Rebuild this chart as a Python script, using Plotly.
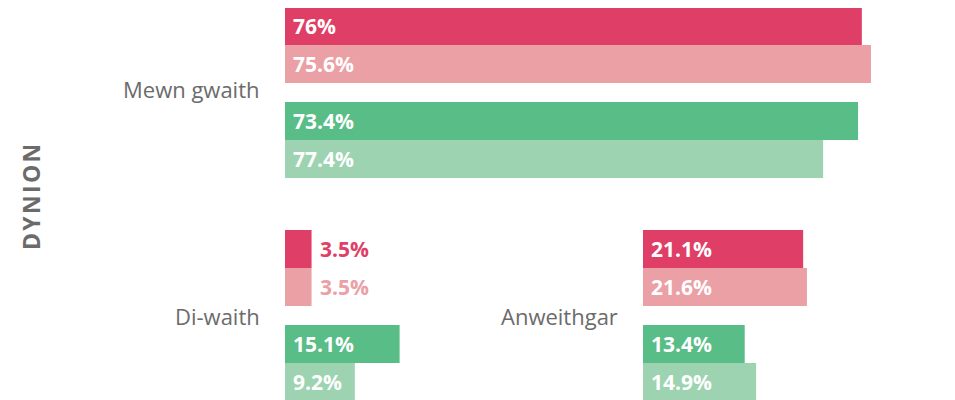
import plotly.graph_objects as go

# data
group_names = ["Mewn gwaith", "Di-waith", "Anweithgar"]
# bar lengths as drawn (percent)
mewn_gwaith = [76.0, 77.2, 75.5, 70.9]
di_waith = [3.5, 3.5, 15.1, 9.2]
anweithgar = [21.1, 21.6, 13.4, 14.9]
# labels printed on the bars
mewn_gwaith_labels = ["76%", "75.6%", "73.4%", "77.4%"]
di_waith_labels = ["3.5%", "3.5%", "15.1%", "9.2%"]
anweithgar_labels = ["21.1%", "21.6%", "13.4%", "14.9%"]
side_label = "DYNION"

colors = ["#df3e66", "#eba0a5", "#58bd87", "#9dd3b0"]
FONT = "Open Sans"
GREY = "#6b6b6b"
W, H = 955, 400
OFF = 8  # page body margin
BAR_PX = 38

def px_x(p):
    return (p - OFF) / W

def px_y(p):
    return 1 - (p - OFF) / H

# bar slots: two pairs with half a bar gap between
pos = [i + (0.5 if i >= 2 else 0) for i in range(4)]
center = (pos[0] + pos[-1]) / 2

groups = [
    (mewn_gwaith, mewn_gwaith_labels, "x", "y"),
    (di_waith, di_waith_labels, "x2", "y2"),
    (anweithgar, anweithgar_labels, "x3", "y3"),
]
label_yshift = [4, 0, 0]

fig = go.Figure()
annotations = []

for name, (vals, labels, xa, ya), ys in zip(group_names, groups, label_yshift):
    fig.add_trace(go.Bar(
        x=vals, y=pos, orientation="h", width=1,
        marker=dict(color=colors, line=dict(width=0)),
        xaxis=xa, yaxis=ya, hoverinfo="skip", showlegend=False,
    ))
    for v, lab, p, c in zip(vals, labels, pos, colors):
        inside = v >= 6
        annotations.append(dict(
            x=0 if inside else v, y=p, xref=xa, yref=ya,
            text="<b>" + lab + "</b>", showarrow=False,
            xanchor="left", yanchor="middle", xshift=6,
            font=dict(family=FONT, size=21, color="white" if inside else c),
        ))
    # group label left of the bars
    annotations.append(dict(
        x=0, y=center, xref=xa, yref=ya, text=name, showarrow=False,
        xanchor="right", yanchor="middle", xshift=-23, yshift=ys,
        font=dict(family=FONT, size=22, color=GREY),
    ))

annotations.append(dict(
    x=px_x(31), y=px_y(197), xref="paper", yref="paper",
    text="<b>" + "\u200a".join(side_label) + "</b>", textangle=-90, showarrow=False,
    xanchor="center", yanchor="middle",
    font=dict(family=FONT, size=23, color=GREY),
))

px_per_pct = 7.59
hidden = dict(showgrid=False, zeroline=False, showticklabels=False, showline=False, ticks="")
top_clip = (OFF - 7) / BAR_PX  # first group starts just above the page edge

fig.update_layout(
    width=W, height=H,
    margin=dict(l=0, r=0, t=0, b=0),
    paper_bgcolor="white", plot_bgcolor="rgba(0,0,0,0)",
    font=dict(family=FONT),
    annotations=annotations,
    xaxis=dict(domain=[px_x(285), 1], range=[0, (W + OFF - 285) / px_per_pct], anchor="y", **hidden),
    yaxis=dict(domain=[px_y(178), 1], range=[4.0, -0.5 + top_clip], anchor="x", **hidden),
    xaxis2=dict(domain=[px_x(285), 1], range=[0, (W + OFF - 285) / px_per_pct], anchor="y2", **hidden),
    yaxis2=dict(domain=[px_y(401), px_y(230)], range=[4.0, -0.5], anchor="x2", **hidden),
    xaxis3=dict(domain=[px_x(643), 1], range=[0, (W + OFF - 643) / px_per_pct], anchor="y3", **hidden),
    yaxis3=dict(domain=[px_y(401), px_y(230)], range=[4.0, -0.5], anchor="x3", **hidden),
)

fig.write_html("out.html")
